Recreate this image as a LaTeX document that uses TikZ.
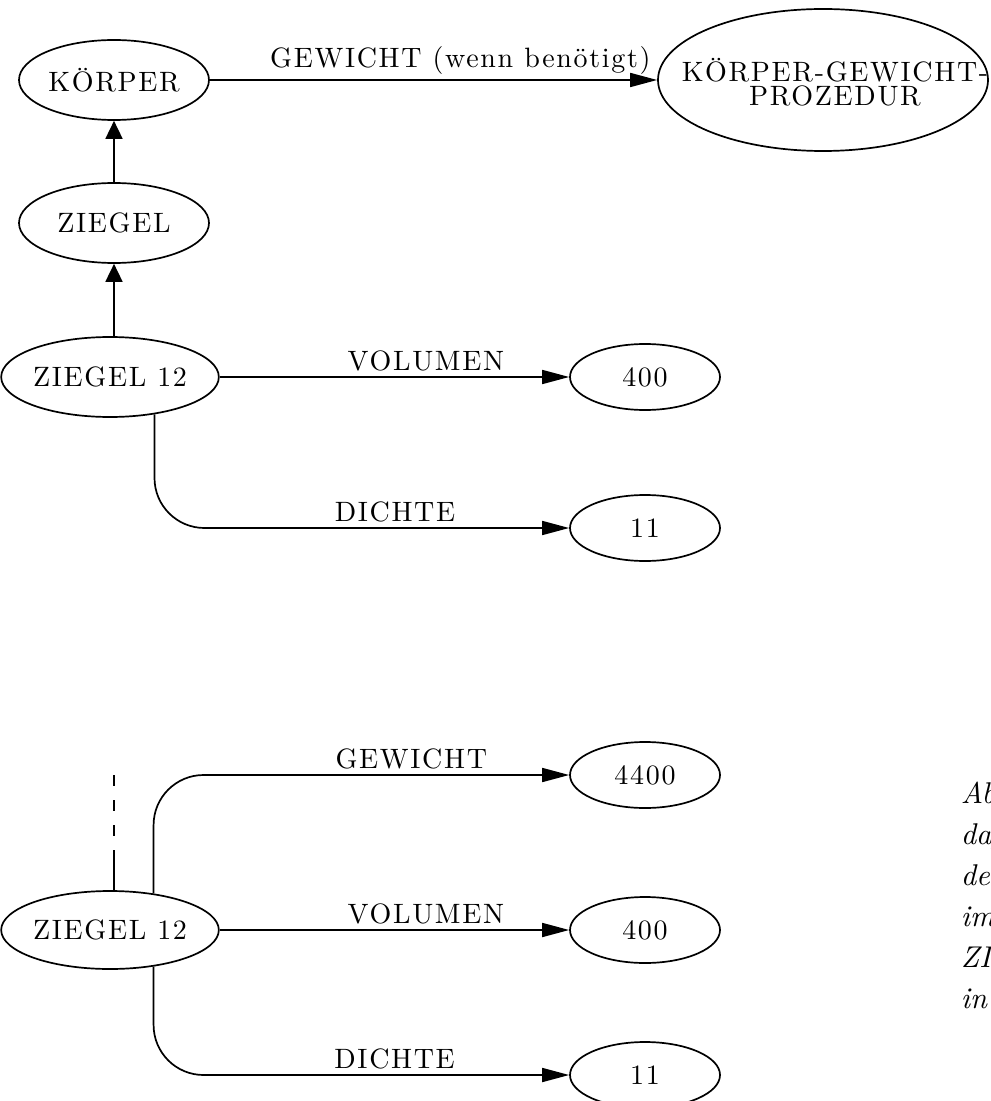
\documentclass[tikz,border=0pt]{standalone}
\usepackage{fontspec}
\setmainfont{lmroman10-regular.otf}[ItalicFont=lmroman10-italic.otf]
\newfontfamily\diafont{lmroman10-regular.otf}[LetterSpace=6]
\usetikzlibrary{arrows.meta, positioning, shapes.geometric}

\begin{document}
\begin{tikzpicture}[
        x=0.5pt, y=-0.5pt,
        line width=0.85pt,
        font=\diafont\fontsize{14}{12}\selectfont,
        obj/.style={draw, ellipse, inner sep=0pt, minimum width=95pt,
            minimum height=40pt},
        val/.style={draw, ellipse, inner sep=0pt, minimum width=75pt,
            minimum height=33pt},
        lbl/.style={above, inner sep=2.5pt},
        arr/.style={-{Triangle[length=13.5pt, width=7pt]}},
        uparr/.style={-{Triangle[length=9pt, width=8.5pt]}},
    ]
        \clip (0,0) rectangle (990,1101);

        % upper part: hierarchy and ZIEGEL 12
        \node[obj] (koerper) at (114,80) {KÖRPER};
        \node[draw, ellipse, inner sep=0pt, minimum width=165pt,
            minimum height=71pt,
            label={[align=center, xshift=6pt, yshift=-1pt]center:KÖRPER-GEWICHT-\\PROZEDUR}]
            (kgproz) at (823,80) {};
        \node[obj] (ziegel) at (114,223) {ZIEGEL};
        \node[obj] (zA) at (110,377) {ZIEGEL 12};
        \node[val] (volA) at (645,377) {400};
        \node[val] (dichA) at (645,528) {11};
        \draw[arr] (koerper) -- node[lbl, pos=0.56] {GEWICHT (wenn benötigt)} (kgproz);
        \draw[uparr] (ziegel) -- (koerper);
        \draw[uparr] (zA.north -| ziegel) -- (ziegel);
        \draw[arr] (zA) -- node[lbl, pos=0.59] {VOLUMEN} (volA);
        \draw[arr, rounded corners=25pt] (zA.-40) |- node[lbl, pos=0.79] {DICHTE} (dichA);

        % lower part: ZIEGEL 12 with stored GEWICHT
        \node[obj, minimum height=39pt] (zB) at (110,930) {ZIEGEL 12};
        \node[val] (gew) at (645,775) {4400};
        \node[val] (volB) at (645,930) {400};
        \node[val] (dichB) at (645,1075) {11};
        \coordinate (dtop) at (114,775);
        \coordinate (dmid) at (114,853);
        \draw[dash pattern=on 5.5pt off 7pt] (dtop) -- (dmid);
        \draw (dmid) -- (dmid |- zB.north);
        \draw[arr, rounded corners=25pt] (zB.40) |- node[lbl, pos=0.81] {GEWICHT} (gew);
        \draw[arr] (zB) -- node[lbl, pos=0.59] {VOLUMEN} (volB);
        \draw[arr, rounded corners=25pt] (zB.-40) |- node[lbl, pos=0.79] {DICHTE} (dichB);

        % cut-off caption text at the right edge
        \node[anchor=north west, align=left, inner sep=0pt,
            font=\itshape\fontsize{15}{20.5}\selectfont] (caption) at (960,781)
            {Abb.\\daß\\dem\\im\\ZIEGEL\\in};
    \end{tikzpicture}
\end{document}
